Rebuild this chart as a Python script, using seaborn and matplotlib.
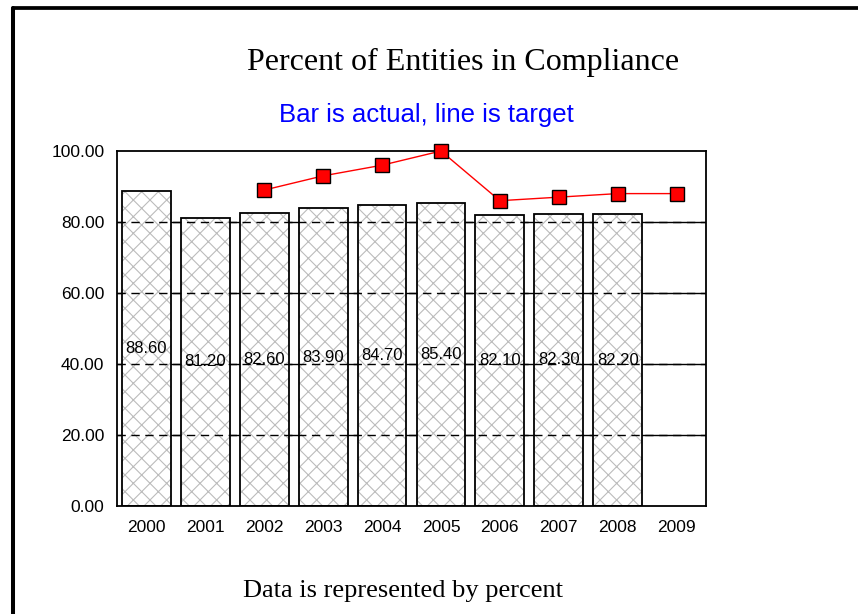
import matplotlib
matplotlib.use("Agg")
import matplotlib.pyplot as plt
from matplotlib.lines import Line2D
import seaborn as sns
import pandas as pd
import numpy as np

# chart values
years = ["2000", "2001", "2002", "2003", "2004", "2005", "2006", "2007", "2008", "2009"]
actual = [88.6, 81.2, 82.6, 83.9, 84.7, 85.4, 82.1, 82.3, 82.2, np.nan]
target = [np.nan, np.nan, 89, 93, 96, 100, 86, 87, 88, 88]
y_ticks = [0, 20, 40, 60, 80, 100]

df = pd.DataFrame({"year": years, "actual": actual, "target": target})

sns.set_style("white")
plt.rcParams["font.family"] = ["Liberation Sans", "DejaVu Sans"]
plt.rcParams["text.color"] = "black"
plt.rcParams["hatch.linewidth"] = 0.8

W, H = 858, 614
fig = plt.figure(figsize=(W / 100, H / 100), dpi=100)
ax = fig.add_axes([117 / W, 1 - 506 / H, (706 - 117) / W, (506 - 151) / H])

# solid grid behind the bars
for v in y_ticks[1:-1]:
    ax.axhline(v, color="black", lw=1, zorder=0.5)

# hatched fill
sns.barplot(data=df, x="year", y="actual", order=years, ax=ax, width=0.83,
            color="white", edgecolor="#bcbcbc", hatch="xx", linewidth=0,
            errorbar=None, zorder=1)
fill_bars = list(ax.patches)

# dashed grid showing through the bars
for v in y_ticks[1:-1]:
    ax.axhline(v, color="black", lw=1, ls=(0, (6, 4)), zorder=1.5)

# bar outlines
sns.barplot(data=df, x="year", y="actual", order=years, ax=ax, width=0.83,
            fill=False, edgecolor="black", linewidth=1.3,
            errorbar=None, zorder=2)

# value labels in the middle of each bar, clipped to the bar
for bar in fill_bars:
    h = bar.get_height()
    if np.isnan(h) or h == 0:
        continue
    t = ax.text(bar.get_x() + bar.get_width() / 2, h / 2, f"{h:.2f}",
                ha="center", va="center", fontsize=12, color="black", zorder=2.5)
    t.set_clip_path(bar)

# target line
sns.pointplot(data=df, x="year", y="target", order=years, ax=ax,
              color="red", markers="s", markersize=10, markeredgecolor="black",
              markeredgewidth=1, linewidth=1, errorbar=None)
for ln in ax.lines:
    if ln.get_color() == "red":
        ln.set_zorder(6)
        ln.set_clip_on(False)

ax.set_xlim(-0.5, len(years) - 0.5)
ax.set_ylim(0, 100)
ax.set_yticks(y_ticks)
ax.set_yticklabels([f"{v:.2f}" for v in y_ticks])
ax.set_xlabel("")
ax.set_ylabel("")
ax.tick_params(axis="both", length=0, labelsize=12.5, colors="black")
ax.tick_params(axis="y", pad=9)
ax.tick_params(axis="x", pad=10)
for s in ax.spines.values():
    s.set_color("black")
    s.set_linewidth(1.3)
    s.set_zorder(5)

# titles
fig.text(463 / W, 1 - 70 / H, "Percent of Entities in Compliance",
         ha="center", va="baseline", fontsize=23, color="black",
         family="Liberation Serif")
fig.text(426 / W, 1 - 122 / H, "Bar is actual, line is target",
         ha="center", va="baseline", fontsize=18.5, color="#0000ff")
fig.text(403 / W, 1 - 597 / H, "Data is represented by percent",
         ha="center", va="baseline", fontsize=19, color="black",
         family="Liberation Serif")

# page border (top and left)
fig.add_artist(Line2D([13 / W, 1], [1 - 7.5 / H] * 2, transform=fig.transFigure,
                      color="black", lw=2.7))
fig.add_artist(Line2D([13 / W] * 2, [0, 1 - 7.5 / H], transform=fig.transFigure,
                      color="black", lw=2.9))

fig.savefig("out.png", dpi=100)
